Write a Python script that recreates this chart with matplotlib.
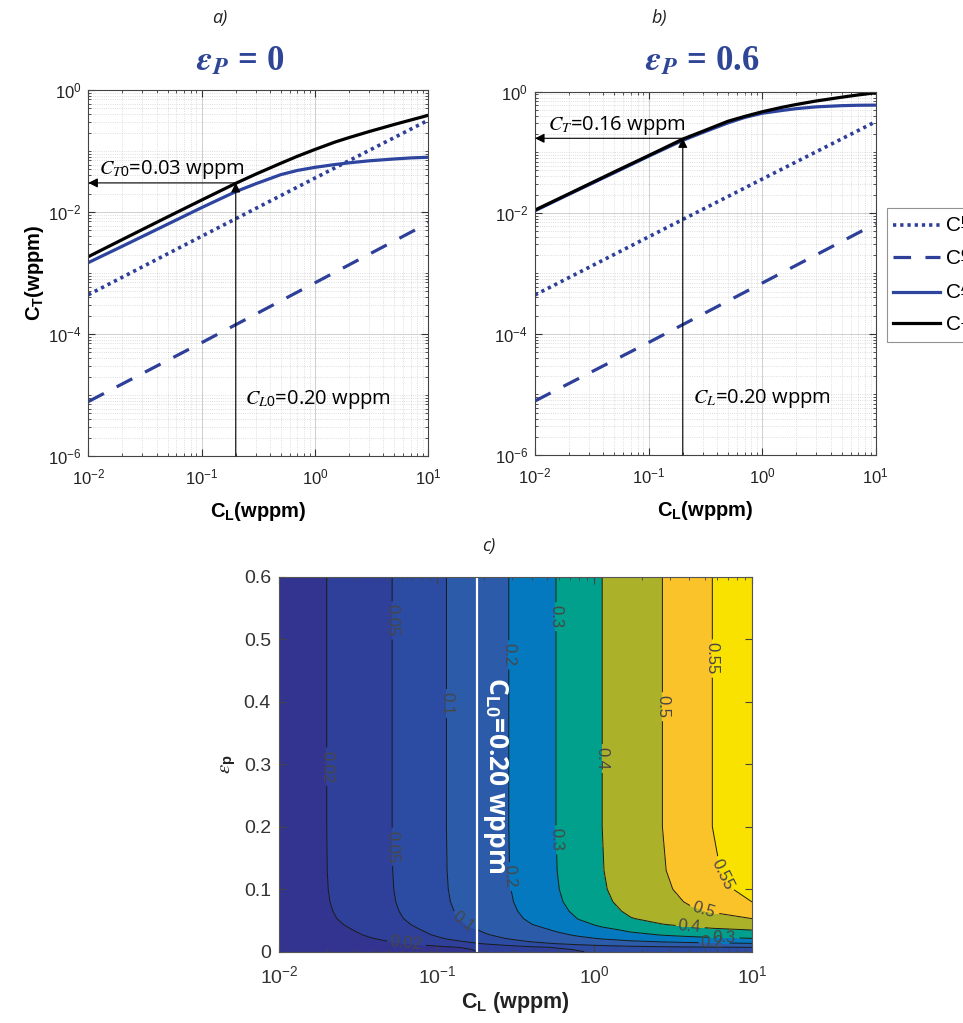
import numpy as np
import matplotlib
matplotlib.use("Agg")
import matplotlib.pyplot as plt
from matplotlib.ticker import LogLocator, NullFormatter

plt.rcParams['font.family'] = ['Liberation Sans', 'DejaVu Sans']
plt.rcParams['mathtext.fontset'] = 'custom'
plt.rcParams['mathtext.rm'] = 'Liberation Sans'
plt.rcParams['mathtext.sf'] = 'Liberation Sans'
plt.rcParams['mathtext.bf'] = 'Liberation Sans:bold'
plt.rcParams['mathtext.it'] = 'STIXGeneral:italic'
plt.rcParams['mathtext.bfit'] = 'STIXGeneral:italic:bold'

# ---------------- data ----------------
# lattice / other curves (same in a and b)
cl_m = [0.01, 0.1, 1.0, 10.0]
ct_m = [4.4e-4, 4.0e-3, 3.6e-2, 0.32]          # dotted
cl_c = [0.01, 0.1, 1.0, 10.0]
ct_c = [7.8e-6, 7.2e-5, 6.9e-4, 6.6e-3]        # dashed

cl_pts = [0.01, 0.02, 0.05, 0.1, 0.2, 0.3, 0.5, 0.7, 1.0, 1.5, 2.0, 3.0, 5.0, 7.0, 10.0]
# panel a (eps_p = 0)
ct_a_A = [1.48e-3, 2.75e-3, 6.3e-3, 0.0118, 0.0216, 0.029, 0.041, 0.048, 0.054,
          0.060, 0.064, 0.069, 0.074, 0.077, 0.079]
ct_a_T = [1.85e-3, 3.54e-3, 8.3e-3, 0.0157, 0.0295, 0.0417, 0.063, 0.082, 0.106,
          0.140, 0.166, 0.208, 0.272, 0.322, 0.385]
# panel b (eps_p = 0.6)
ct_b_A = [0.0108, 0.0203, 0.046, 0.086, 0.157, 0.212, 0.305, 0.375, 0.44,
          0.49, 0.525, 0.562, 0.588, 0.597, 0.60]
ct_b_T = [0.0111, 0.0207, 0.0475, 0.088, 0.165, 0.222, 0.325, 0.39, 0.466,
          0.553, 0.615, 0.703, 0.81, 0.884, 0.96]

cl0 = 0.2
ct0_a = 0.03
ct0_b = 0.17

# panel c: C_T^A over (C_L, eps_p)
cl_nodes = [0.01, 0.02, 0.052, 0.115, 0.2, 0.286, 0.4, 0.57, 0.8, 1.12, 1.7, 2.7, 4.0, 5.6, 10.0]
ct_top = [0.0105, 0.02, 0.05, 0.1, 0.155, 0.2, 0.25, 0.3, 0.35, 0.4, 0.455, 0.5, 0.53, 0.55, 0.575]
eps_rows = [0.0, 0.0035, 0.007, 0.010, 0.0134, 0.017, 0.0214, 0.027, 0.0347, 0.043, 0.053,
            0.065, 0.080, 0.10, 0.13, 0.2, 0.3, 0.6]
eps_scale = [0.139, 0.150, 0.174, 0.255, 0.348, 0.43, 0.522, 0.61, 0.696, 0.79, 0.87,
             0.92, 0.957, 0.98, 0.993, 1.0, 1.0, 1.0]
fill_levels = [0, 0.02, 0.05, 0.1, 0.2, 0.3, 0.4, 0.5, 0.55, 0.7]
line_levels = [0.02, 0.05, 0.1, 0.2, 0.3, 0.4, 0.5, 0.55]
band_colors = ['#33348f', '#2f409a', '#2c4ba2', '#2b5ba9', '#0579c0', '#00a08c',
               '#abb229', '#fbc32a', '#f9e100']
label_pos = [(0.053, 0.53), (0.053, 0.168), (0.02, 0.296), (0.064, 0.011),
             (0.116, 0.397), (0.148, 0.048), (0.29, 0.475), (0.29, 0.12),
             (0.575, 0.536), (0.575, 0.179), (1.13, 0.309), (4.0, 0.037),
             (2.76, 0.392), (4.85, 0.061), (5.6, 0.469), (6.2, 0.12),
             (6.6, 0.024), (5.6, 0.011)]
cl_line_c = 0.18

# ---------------- figure ----------------
W, H = 963, 1023
fig = plt.figure(figsize=(W / 100, H / 100), dpi=100)

def fx(px):
    return px / W

def fy(py):
    return 1 - py / H

blue = '#2d3f99'
blue_solid = '#2e45a0'

def style_log(ax):
    ax.set_xscale('log')
    ax.set_yscale('log')
    ax.set_xlim(0.01, 10)
    ax.set_ylim(1e-6, 1)
    ax.set_xticks([1e-2, 1e-1, 1, 10])
    ax.set_yticks([1e-6, 1e-4, 1e-2, 1])
    ax.xaxis.set_minor_locator(LogLocator(base=10, subs=np.arange(1, 10), numticks=100))
    ax.yaxis.set_minor_locator(LogLocator(base=10, subs=np.arange(1, 10), numticks=100))
    ax.xaxis.set_minor_formatter(NullFormatter())
    ax.yaxis.set_minor_formatter(NullFormatter())
    ax.tick_params(which='both', direction='in', top=True, right=True, colors='#333333',
                   labelcolor='#222222', labelsize=12)
    ax.tick_params(which='major', length=5)
    ax.tick_params(which='minor', length=2.5)
    ax.tick_params(axis='x', which='major', pad=8)
    ax.tick_params(axis='y', which='major', pad=5)
    ax.grid(which='major', color='#cfcfcf', lw=0.7, ls='-')
    ax.grid(which='minor', color='#d3d3d3', lw=0.6, ls=':')
    ax.set_axisbelow(True)
    for s in ax.spines.values():
        s.set_color('#444444')
        s.set_linewidth(0.8)
    ax.set_xlabel(r'$\mathbf{C_L(wppm)}$', fontsize=14.5, labelpad=9)

def draw_curves(ax, ctA, ctT):
    l1, = ax.plot(cl_m, ct_m, ls=(0, (0.9, 1.1)), color=blue, lw=2.6)
    l2, = ax.plot(cl_c, ct_c, ls=(0, (5.5, 4.5)), color=blue, lw=2.3)
    l3, = ax.plot(cl_pts, ctA, ls='-', color=blue_solid, lw=2.3)
    l4, = ax.plot(cl_pts, ctT, ls='-', color='black', lw=2.3)
    return [l1, l2, l3, l4]

arrow_kw = dict(arrowstyle='-|>', color='black', lw=0.8, mutation_scale=14,
                shrinkA=0, shrinkB=0)

# panel a
ax1 = fig.add_axes([fx(88.3), fy(456), fx(428.3 - 88.3), (456 - 90) / H])
style_log(ax1)
handles = draw_curves(ax1, ct_a_A, ct_a_T)
ax1.annotate('', xy=(cl0, ct0_a), xytext=(cl0, 1e-6), arrowprops=arrow_kw, zorder=5)
ax1.annotate('', xy=(0.01, ct0_a), xytext=(cl0, ct0_a), arrowprops=arrow_kw, zorder=5)
ax1.text(0.0125, 0.042, r'$C_{T\mathit{0}}$=0.03 wppm', fontsize=14.5, family='Open Sans',
         ha='left', va='baseline')
ax1.text(0.24, 7.2e-6, r'$C_{L\mathit{0}}$=0.20 wppm', fontsize=14.5, family='Open Sans',
         ha='left', va='baseline')
ax1.set_ylabel(r'$\mathbf{C_T(wppm)}$', fontsize=14.5, labelpad=1)

# panel b
ax2 = fig.add_axes([fx(535), fy(455), fx(875.7 - 535), (455 - 91.7) / H])
style_log(ax2)
draw_curves(ax2, ct_b_A, ct_b_T)
ax2.annotate('', xy=(cl0, ct0_b), xytext=(cl0, 1e-6), arrowprops=arrow_kw, zorder=5)
ax2.annotate('', xy=(0.01, ct0_b), xytext=(cl0, ct0_b), arrowprops=arrow_kw, zorder=5)
ax2.text(0.0131, 0.233, r'$C_T$=0.16 wppm', fontsize=14.5, family='Open Sans',
         ha='left', va='baseline')
ax2.text(0.248, 7.2e-6, r'$C_L$=0.20 wppm', fontsize=14.5, family='Open Sans',
         ha='left', va='baseline')

# titles and panel letters
title_col = '#2f4596'
fig.text(fx(240), fy(62), r'$\mathbfit{\varepsilon_P}$ = 0', fontsize=25, color=title_col,
         family='Liberation Serif', weight='bold', ha='center', va='center')
fig.text(fx(702), fy(62), r'$\mathbfit{\varepsilon_P}$ = 0.6', fontsize=25, color=title_col,
         family='Liberation Serif', weight='bold', ha='center', va='center')
for lab, x, y in [('a)', 220, 18), ('b)', 659, 18), ('c)', 489, 546)]:
    fig.text(fx(x), fy(y), lab, fontsize=13, style='italic', family='Open Sans',
             ha='center', va='center', color='#222222')

# legend (partially outside the figure, as in the reference)
leg = fig.legend(handles, [r'$\mathrm{C_T^{m}}$', r'$\mathrm{C_T^{c}}$',
                           r'$\mathrm{C_T^{A}}$', r'$\mathrm{C_T}$'],
                 loc='upper left', bbox_to_anchor=(fx(887), fy(208)), fontsize=15,
                 frameon=True, fancybox=False, edgecolor='#777777', handlelength=2.25,
                 labelspacing=0.35, borderaxespad=0, handletextpad=0.25, borderpad=0.3)
leg.get_frame().set_linewidth(0.8)

# panel c
ax3 = fig.add_axes([fx(279.3), fy(951.7), fx(752 - 279.3), (951.7 - 576.7) / H])
X, Y = np.meshgrid(np.array(cl_nodes), np.array(eps_rows))
Z = np.outer(np.array(eps_scale), np.array(ct_top))
ax3.contourf(X, Y, Z, levels=fill_levels, colors=band_colors)
cs = ax3.contour(X, Y, Z, levels=line_levels, colors='#1a1a1a', linewidths=0.7)
ax3.set_xscale('log')
ax3.set_xlim(0.01, 10)
ax3.set_ylim(0, 0.6)
ax3.clabel(cs, manual=label_pos, fontsize=12, colors='#474747', inline=True, fmt='%g',
           inline_spacing=3)
ax3.axvline(cl_line_c, color='white', lw=1.6)
ax3.text(0.235, 0.283, r'C$_{\mathbf{L0}}$=0.20 wppm', rotation=-90, color='white',
         fontsize=19, weight='bold', family='Open Sans', ha='center', va='center')
ax3.set_xticks([1e-2, 1e-1, 1, 10])
ax3.xaxis.set_minor_locator(LogLocator(base=10, subs=np.arange(2, 10), numticks=100))
ax3.xaxis.set_minor_formatter(NullFormatter())
ax3.set_yticks([0, 0.1, 0.2, 0.3, 0.4, 0.5, 0.6])
ax3.set_yticklabels(['0', '0.1', '0.2', '0.3', '0.4', '0.5', '0.6'])
ax3.tick_params(which='both', direction='in', top=True, right=True, colors='#444444',
                labelcolor='#333333', labelsize=14)
ax3.tick_params(which='major', length=5)
ax3.tick_params(which='minor', length=2.5)
ax3.tick_params(axis='x', which='major', pad=10)
ax3.tick_params(axis='y', which='major', pad=6)
for s in ax3.spines.values():
    s.set_color('#555555')
    s.set_linewidth(0.8)
ax3.set_xlabel(r'$\mathbf{C_L}$ $\mathbf{(wppm)}$', fontsize=15.5, labelpad=2, color='#222222')
ax3.set_ylabel(r'$\epsilon_\mathbf{p}$', fontsize=15, labelpad=4, color='#222222')

fig.savefig('out.png', dpi=100)
